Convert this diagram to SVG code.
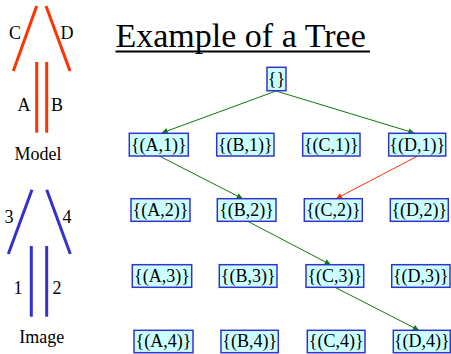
<svg xmlns="http://www.w3.org/2000/svg" width="451" height="354" viewBox="0 0 451 354">
<style>
text{font-family:"Liberation Serif","Times New Roman",serif;fill:#000}
.lbl{font-size:18px;text-anchor:middle}
.red{stroke:#ff3300;stroke-width:3;fill:none}
.blue{stroke:#3333cc;stroke-width:3;fill:none}
.box rect{fill:#ccffff;stroke:#3333cc;stroke-width:1.5}
.box text{font-size:18px;text-anchor:middle}
.edge{stroke:#117711;stroke-width:1;fill:none;marker-end:url(#ag)}
.edge.r{stroke:#ff3300;marker-end:url(#ar)}
</style>
<defs>
<marker id="ag" viewBox="0 0 10 10" refX="10" refY="5" markerWidth="7" markerHeight="6" orient="auto" markerUnits="userSpaceOnUse"><path d="M0,0L10,5L0,10z" fill="#117711"/></marker>
<marker id="ar" viewBox="0 0 10 10" refX="10" refY="5" markerWidth="7" markerHeight="6" orient="auto" markerUnits="userSpaceOnUse"><path d="M0,0L10,5L0,10z" fill="#ff3300"/></marker>
</defs>
<rect width="451" height="354" fill="#fff"/>
<g id="model">
<line class="red" x1="36.7" y1="6" x2="13.3" y2="71"/>
<line class="red" x1="46" y1="6" x2="70" y2="71"/>
<line class="red" x1="36.7" y1="62" x2="36.7" y2="132.7"/>
<line class="red" x1="46.7" y1="62" x2="46.7" y2="132.7"/>
<text class="lbl" x="15" y="39">C</text>
<text class="lbl" x="67" y="39">D</text>
<text class="lbl" x="24" y="111">A</text>
<text class="lbl" x="57" y="111">B</text>
<text class="lbl" x="38" y="160">Model</text>
</g>
<g id="image">
<line class="blue" x1="32" y1="189.7" x2="8.3" y2="254"/>
<line class="blue" x1="46.7" y1="189.7" x2="70.3" y2="254"/>
<line class="blue" x1="31.3" y1="246" x2="31.3" y2="316.7"/>
<line class="blue" x1="46.7" y1="246" x2="46.7" y2="316.7"/>
<text class="lbl" x="9" y="223">3</text>
<text class="lbl" x="67" y="223">4</text>
<text class="lbl" x="18" y="294">1</text>
<text class="lbl" x="57" y="294">2</text>
<text class="lbl" x="41.7" y="343">Image</text>
</g>
<g id="title">
<text x="115.5" y="46.5" style="font-size:34px">Example of a Tree</text>
<line x1="115.5" y1="51.5" x2="370" y2="51.5" stroke="#000" stroke-width="2"/>
</g>
<g id="connectors">
<line class="edge" x1="276" y1="91" x2="161.7" y2="133"/>
<line class="edge" x1="276" y1="91" x2="414.3" y2="133"/>
<line class="edge" x1="159.3" y1="156" x2="242.7" y2="198.7"/>
<line class="edge r" x1="417.7" y1="156" x2="336" y2="198.7"/>
<line class="edge" x1="247.7" y1="221.3" x2="330.7" y2="264.7"/>
<line class="edge" x1="335" y1="287.3" x2="419" y2="330.3"/>
</g>
<g id="root" class="box"><rect x="267" y="67.3" width="19" height="23.4"/><text x="276.5" y="85">{}</text></g>
<g id="A1" class="box"><rect x="129.3" y="133.3" width="59" height="22.7"/><text x="158.8" y="150.5">{(A,1)}</text></g>
<g id="B1" class="box"><rect x="216.7" y="133.3" width="57.3" height="22.7"/><text x="245.3" y="150.5">{(B,1)}</text></g>
<g id="C1" class="box"><rect x="302.7" y="133.3" width="57.3" height="22.7"/><text x="331.3" y="150.5">{(C,1)}</text></g>
<g id="D1" class="box"><rect x="388.7" y="133.3" width="57" height="22.7"/><text x="417.2" y="150.5">{(D,1)}</text></g>
<g id="A2" class="box"><rect x="131" y="198.7" width="59" height="22.6"/><text x="160.5" y="215.9">{(A,2)}</text></g>
<g id="B2" class="box"><rect x="217.3" y="198.7" width="58.7" height="22.6"/><text x="246.6" y="215.9">{(B,2)}</text></g>
<g id="C2" class="box"><rect x="304.3" y="198.7" width="58" height="22.6"/><text x="333.3" y="215.9">{(C,2)}</text></g>
<g id="D2" class="box"><rect x="390.3" y="198.7" width="58" height="22.6"/><text x="419.3" y="215.9">{(D,2)}</text></g>
<g id="A3" class="box"><rect x="132.3" y="264.7" width="59.4" height="22.6"/><text x="162" y="281.9">{(A,3)}</text></g>
<g id="B3" class="box"><rect x="219.3" y="264.7" width="57.7" height="22.6"/><text x="248.2" y="281.9">{(B,3)}</text></g>
<g id="C3" class="box"><rect x="306" y="264.7" width="57.7" height="22.6"/><text x="334.8" y="281.9">{(C,3)}</text></g>
<g id="D3" class="box"><rect x="391.7" y="264.7" width="58.3" height="22.6"/><text x="420.8" y="281.9">{(D,3)}</text></g>
<g id="A4" class="box"><rect x="134" y="330.3" width="59" height="22.4"/><text x="163.5" y="347.4">{(A,4)}</text></g>
<g id="B4" class="box"><rect x="221" y="330.3" width="57.3" height="22.4"/><text x="249.7" y="347.4">{(B,4)}</text></g>
<g id="C4" class="box"><rect x="307.3" y="330.3" width="57.7" height="22.4"/><text x="336.2" y="347.4">{(C,4)}</text></g>
<g id="D4" class="box"><rect x="393.3" y="330.3" width="57" height="22.4"/><text x="421.8" y="347.4">{(D,4)}</text></g>
</svg>
